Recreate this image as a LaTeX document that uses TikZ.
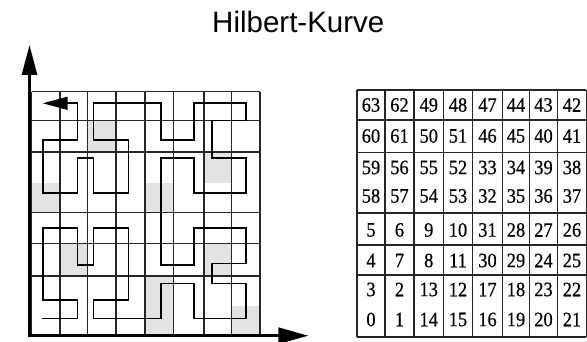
\documentclass[tikz,border=0pt]{standalone}
\usepackage{fontspec}
\setmainfont{Liberation Serif}
\newfontfamily\titlefont{Liberation Sans}
\newfontfamily\numfont[FakeBold=0.5]{Liberation Serif}
\usetikzlibrary{arrows.meta}
\begin{document}
\begin{tikzpicture}[x=1pt,y=-1pt,
  gridline/.style={line width=1.3pt,black!85},
  curveline/.style={line width=1.6pt,black,line join=miter},
  shade/.style={fill=black!11},
  tabline/.style={line width=1.6pt,black!85},
  num/.style={inner sep=0pt,xscale=0.9,font=\numfont\fontsize{20.5}{22}\selectfont},
  axisline/.style={line width=2.8pt,black,line join=miter}]
\useasboundingbox (0,0) rectangle (587,342);
% title
\node[anchor=base,inner sep=0pt,font=\titlefont\fontsize{29.5}{32}\selectfont] (title) at (298.3,32.3) {Hilbert-Kurve};
% shaded cells
\foreach \a/\b/\c/\d in {87.3/120.7/116/152, 31.7/183.3/60/212.7, 204/152/231.7/183.3, 145/183.3/173.3/212.7, 60/243.3/87.3/276, 204/243.3/231.7/276, 145/276/173.3/336, 231.7/306/260/336}
  \fill[shade] (\a,\b) rectangle (\c,\d);
% grid
\foreach \x in {31.7,60,87.3,116,145,173.3,204,231.7,260}
  \draw[gridline] (\x,91.7) -- (\x,336);
\foreach \y in {91.7,120.7,152,212.7,243.3,276}
  \draw[gridline] (31.7,\y) -- (260,\y);
% curve
\draw[curveline,-{Triangle[length=25pt,width=13pt]}]
  (41.7,318.3) -- (77.3,318.3) -- (77.3,300) -- (42.7,300) -- (42.7,228.3)
  -- (77.3,228.3) -- (77.3,265) -- (93.3,265) -- (93.3,228.3) -- (128.3,228.3)
  -- (128.3,300) -- (93.3,300) -- (93.3,318.3) -- (160.7,318.3) -- (160.7,283.3)
  -- (194,283.3) -- (194,318.3) -- (246,318.3) -- (246,283.3) -- (211.7,283.3)
  -- (211.7,263.3) -- (246,263.3) -- (246,228.3) -- (194,228.3) -- (194,265)
  -- (160.7,265) -- (160.7,158.3) -- (194,158.3) -- (194,193.3) -- (246,193.3)
  -- (246,158.3) -- (211.7,158.3) -- (211.7,120.7) -- (246,120.7) -- (246,103.3)
  -- (194,103.3) -- (194,140) -- (160.7,140) -- (160.7,103.3) -- (93.3,103.3)
  -- (93.3,140) -- (128.3,140) -- (128.3,193.3) -- (93.3,193.3) -- (93.3,158.3)
  -- (77.3,158.3) -- (77.3,193.3) -- (42.7,193.3) -- (42.7,140) -- (77.3,140)
  -- (77.3,103.3) -- (42.7,103.3);
% axes
\coordinate (ytip) at (29.5,45);
\coordinate (origin) at (29.5,335.7);
\coordinate (xtip) at (308.3,335.7);
\draw[axisline,{Triangle[length=30pt,width=15pt]}-{Triangle[length=30pt,width=16pt]}] (ytip) -- (origin) -- (xtip);
% table
\foreach \x in {357,385,414,443.5,472.5,502.5,529.5,557.5,586.3}
  \draw[tabline] (\x,90) -- (\x,336.7);
\foreach \y in {90,120,152.5,213.3,245,275,336.7}
  \draw[tabline] (357,\y) -- (586.3,\y);
\def\colx{{371,399.5,428.75,458,487.5,516,543.5,572}}
\foreach \yy/\row in {105/{63,62,49,48,47,44,43,42},
                      136/{60,61,50,51,46,45,40,41},
                      167.5/{59,56,55,52,33,34,39,38},
                      196/{58,57,54,53,32,35,36,37},
                      230/{5,6,9,10,31,28,27,26},
                      260.5/{4,7,8,11,30,29,24,25},
                      289.5/{3,2,13,12,17,18,23,22},
                      319.5/{0,1,14,15,16,19,20,21}}{
  \foreach \v [count=\i from 0] in \row {
    \pgfmathsetmacro\xx{\colx[\i]}
    \node[num] (n\v) at (\xx,\yy) {\v};
  }
}
\end{tikzpicture}
\end{document}
